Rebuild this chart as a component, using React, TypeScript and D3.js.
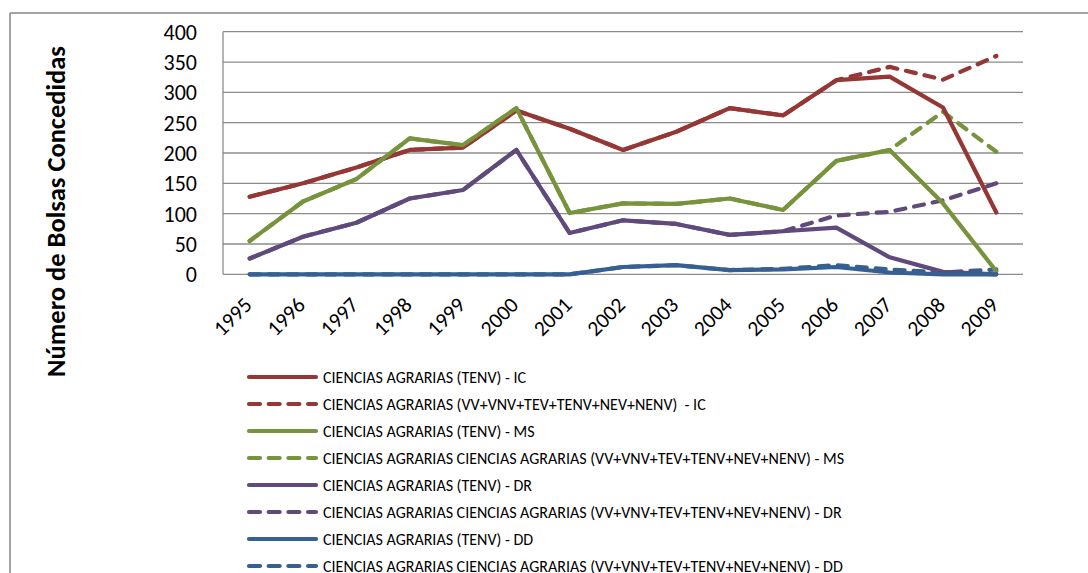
import React from "react";
import * as d3 from "d3";

const years = ["1995","1996","1997","1998","1999","2000","2001","2002","2003","2004","2005","2006","2007","2008","2009"];
const yTicks = [0, 50, 100, 150, 200, 250, 300, 350, 400];

const icTenv = [128, 150, 176, 205, 209, 270, 240, 205, 235, 274, 262, 320, 326, 275, 102];
const icTotal = [128, 150, 176, 205, 209, 270, 240, 205, 235, 274, 262, 320, 342, 321, 360];
const msTenv = [55, 120, 157, 224, 213, 274, 101, 117, 116, 125, 106, 187, 205, 117, 5];
const msTotal = [55, 120, 157, 224, 213, 274, 101, 117, 116, 125, 106, 187, 205, 268, 202];
const drTenv = [26, 62, 85, 125, 139, 205, 68, 89, 83, 65, 71, 77, 28, 4, 0];
const drTotal = [26, 62, 85, 125, 139, 205, 68, 89, 83, 65, 71, 97, 103, 122, 150];
const ddTenv = [0, 0, 0, 0, 0, 0, 0, 12, 15, 7, 8, 12, 3, 0, 0];
const ddTotal = [0, 0, 0, 0, 0, 0, 0, 12, 15, 7, 9, 15, 8, 3, 8];

const seriesNames = [
  "CIENCIAS AGRARIAS (TENV) - IC",
  "CIENCIAS AGRARIAS (VV+VNV+TEV+TENV+NEV+NENV)  - IC",
  "CIENCIAS AGRARIAS (TENV) - MS",
  "CIENCIAS AGRARIAS CIENCIAS AGRARIAS (VV+VNV+TEV+TENV+NEV+NENV) - MS",
  "CIENCIAS AGRARIAS (TENV) - DR",
  "CIENCIAS AGRARIAS CIENCIAS AGRARIAS (VV+VNV+TEV+TENV+NEV+NENV) - DR",
  "CIENCIAS AGRARIAS (TENV) - DD",
  "CIENCIAS AGRARIAS CIENCIAS AGRARIAS (VV+VNV+TEV+TENV+NEV+NENV) - DD",
];
const seriesValues = [icTenv, icTotal, msTenv, msTotal, drTenv, drTotal, ddTenv, ddTotal];
const seriesColors = ["#953735", "#953735", "#77933C", "#77933C", "#604A7B", "#604A7B", "#376092", "#376092"];
const seriesDashed = [false, true, false, true, false, true, false, true];

// draw order: dashed first so solid sits on top where identical
const drawOrder = [1, 3, 5, 7, 0, 2, 4, 6];

export default function App() {
  const W = 1088, H = 573;
  const left = 223, right = 1023, top = 31.7, bottom = 274.3;
  const x = d3.scaleBand<string>().domain(years).range([left, right]);
  const y = d3.scaleLinear().domain([0, 400]).range([bottom, top]);
  const line = d3.line<number>()
    .x((_, i) => (x(years[i]) as number) + x.bandwidth() / 2)
    .y((d) => y(d));
  const font = "Carlito, Calibri, Lato, 'Open Sans', sans-serif";
  const legendX1 = 249, legendX2 = 316, legendY0 = 377, legendStep = 27;

  return (
    <svg width={W} height={H} style={{ position: "absolute", left: 0, top: 0 }}>
      <rect x={0} y={0} width={W} height={H} fill="#fff" />
      <line x1={10} y1={13} x2={W} y2={13} stroke="#868686" strokeWidth={1.5} />
      <line x1={10} y1={13} x2={10} y2={H} stroke="#868686" strokeWidth={1.5} />
      {yTicks.map((t) => (
        <line key={"g" + t} x1={left} x2={right} y1={y(t)} y2={y(t)} stroke="#8c8c8c" strokeWidth={1.3} />
      ))}
      <line x1={left} x2={left} y1={top} y2={bottom} stroke="#8c8c8c" strokeWidth={1.3} />
      {yTicks.map((t) => (
        <text key={"t" + t} x={197} y={y(t)} dy="0.36em" textAnchor="end" fontFamily={font} fontSize={22} fill="#000">
          {t}
        </text>
      ))}
      {years.map((yr) => {
        const cx = (x(yr) as number) + x.bandwidth() / 2;
        return (
          <text key={yr} transform={`translate(${cx + 3.5},${bottom + 32}) rotate(-45)`} textAnchor="end" fontFamily={font} fontSize={21.5} fill="#000">
            {yr}
          </text>
        );
      })}
      <text transform={`translate(65,211.5) rotate(-90)`} textAnchor="middle" fontFamily={font} fontSize={26.5} fontWeight="bold" fill="#000">
        Número de Bolsas Concedidas
      </text>
      {drawOrder.map((si) => (
        <path
          key={"s" + si}
          d={line(seriesValues[si]) as string}
          fill="none"
          stroke={seriesColors[si]}
          strokeWidth={4.2}
          strokeLinecap="round"
          strokeLinejoin="round"
          strokeDasharray={seriesDashed[si] ? "10 9" : undefined}
        />
      ))}
      {seriesNames.map((name, i) => {
        const ly = legendY0 + i * legendStep;
        return (
          <g key={"l" + i}>
            <line x1={legendX1} x2={legendX2} y1={ly} y2={ly} stroke={seriesColors[i]} strokeWidth={4.2} strokeLinecap="round" strokeDasharray={seriesDashed[i] ? "11 8.7" : undefined} />
            <text x={323} y={ly} dy="0.36em" fontFamily={font} fontSize={16} fill="#000" style={{ whiteSpace: "pre" }}>
              {name}
            </text>
          </g>
        );
      })}
    </svg>
  );
}
